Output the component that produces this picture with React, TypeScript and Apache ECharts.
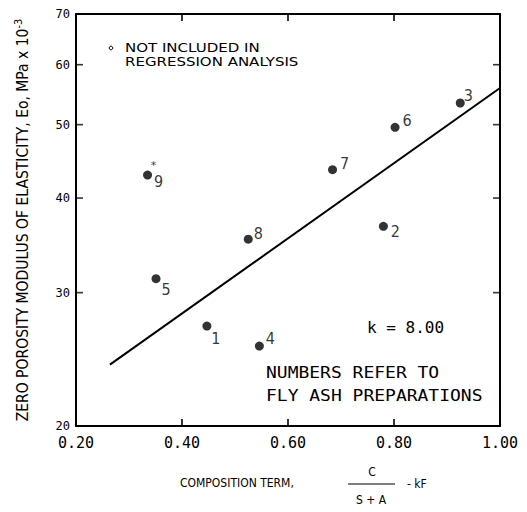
import React, { useEffect, useRef } from "react";
import * as echarts from "echarts";

// ---- data ----
const prepIds = ["1", "2", "3", "4", "5", "6", "7", "8", "9"];
const compTerm = [0.447, 0.78, 0.925, 0.546, 0.351, 0.802, 0.684, 0.525, 0.335];
const modulus = [27.1, 36.7, 53.4, 25.5, 31.3, 49.6, 43.6, 35.3, 42.9];
const excludedIds = ["9"];
const regressionX = [0.264, 1.0];
const regressionY = [24.1, 55.9];
const xTickValues = [0.2, 0.4, 0.6, 0.8, 1.0];
const yTickValues = [20, 30, 40, 50, 60, 70];

// ---- styling (label offsets in px relative to the marker centre) ----
const LABEL_OFFSET: Record<string, [number, number]> = {
  "1": [9, 12],
  "2": [12, 5],
  "3": [8, -8],
  "4": [11, -8],
  "5": [10, 11],
  "6": [12, -7],
  "7": [12, -6],
  "8": [10, -6],
  "9": [11, 6],
};
const TICK_LEN = 7;
const TICK_W = 1.6;
const MONO = '"DejaVu Sans Mono", "Liberation Mono", monospace';
const COND = '"DejaVu Sans Condensed", "Liberation Sans Narrow", "DejaVu Sans", sans-serif';
const SANS = '"DejaVu Sans", "Noto Sans", sans-serif';

export default function App() {
  const ref = useRef<HTMLDivElement>(null);

  useEffect(() => {
    document.body.style.margin = "0";
    if (!ref.current) return;
    const chart = echarts.init(ref.current, undefined, { renderer: "svg" });

    const points = prepIds.map((id, i) => ({
      name: id,
      value: [compTerm[i], modulus[i]],
      label: { offset: LABEL_OFFSET[id] },
    }));
    const excludedPts = prepIds
      .map((id, i) => ({ id, i }))
      .filter((p) => excludedIds.includes(p.id))
      .map((p) => ({ name: "*", value: [compTerm[p.i], modulus[p.i]] }));
    const regression = regressionX.map((x, i) => [x, regressionY[i]]);

    const xMin = xTickValues[0];
    const xMax = xTickValues[xTickValues.length - 1];
    const yMin = yTickValues[0];
    const yMax = yTickValues[yTickValues.length - 1];
    const innerY = yTickValues.slice(1, -1);

    const axisLine = { show: true, onZero: false, lineStyle: { color: "#000", width: 2 } };
    const xTick = { show: true, inside: true, length: TICK_LEN, lineStyle: { color: "#000", width: TICK_W } };

    // inward y tick marks (log axis) drawn as thin rect symbols placed through the axes' scales
    const yTickSeries = (data: number[][], offset: number[]) => ({
      type: "scatter",
      silent: true,
      clip: false,
      symbol: "rect",
      symbolSize: [TICK_LEN, TICK_W],
      symbolOffset: offset,
      itemStyle: { color: "#000" },
      data,
      z: 5,
    });

    chart.setOption({
      animation: false,
      backgroundColor: "#fff",
      grid: { left: 76, right: 27, top: 14, bottom: 86, containLabel: false },
      xAxis: [
        {
          type: "value",
          min: xMin,
          max: xMax,
          interval: 0.2,
          position: "bottom",
          axisLine,
          axisTick: xTick,
          axisLabel: {
            color: "#000",
            fontFamily: MONO,
            fontSize: 15,
            margin: 9,
            formatter: (v: number) => v.toFixed(2),
          },
          splitLine: { show: false },
        },
        {
          type: "value",
          min: xMin,
          max: xMax,
          interval: 0.2,
          position: "top",
          axisLine,
          axisTick: xTick,
          axisLabel: { show: false },
          splitLine: { show: false },
        },
      ],
      yAxis: [
        {
          type: "log",
          min: yMin,
          max: yMax,
          position: "left",
          axisLine,
          axisTick: { show: false },
          axisLabel: {
            customValues: yTickValues,
            color: "#000",
            fontFamily: MONO,
            fontSize: 12,
            margin: 6,
          },
          splitLine: { show: false },
          minorTick: { show: false },
          name: "{a|ZERO POROSITY MODULUS OF ELASTICITY, Eo, MPa x 10}{s|-3}",
          nameLocation: "middle",
          nameRotate: 90,
          nameGap: 45,
          nameTextStyle: {
            rich: {
              a: { fontFamily: COND, fontSize: 15.5, color: "#000", lineHeight: 18, verticalAlign: "bottom" },
              s: { fontFamily: COND, fontSize: 11, color: "#000", lineHeight: 18, verticalAlign: "top" },
            },
          },
        },
        {
          type: "log",
          min: yMin,
          max: yMax,
          position: "right",
          axisLine,
          axisTick: { show: false },
          axisLabel: { show: false },
          splitLine: { show: false },
          minorTick: { show: false },
        },
      ],
      series: [
        {
          type: "line",
          data: regression,
          symbol: "none",
          lineStyle: { color: "#000", width: 2 },
          z: 2,
        },
        {
          type: "scatter",
          data: points,
          symbol: "circle",
          symbolSize: 9,
          itemStyle: { color: "#000" },
          label: {
            show: true,
            position: "inside",
            formatter: (p: any) => p.name,
            color: "#000",
            fontFamily: COND,
            fontSize: 16,
            align: "center",
            verticalAlign: "middle",
          },
          z: 3,
        },
        {
          type: "scatter",
          data: excludedPts,
          symbolSize: 0,
          label: {
            show: true,
            position: "inside",
            formatter: (p: any) => p.name,
            offset: [6, -10],
            color: "#000",
            fontFamily: SANS,
            fontSize: 11,
          },
          z: 3,
        },
        yTickSeries(innerY.map((v) => [xMin, v]), [TICK_LEN / 2, 0]),
        yTickSeries(innerY.map((v) => [xMax, v]), [-TICK_LEN / 2, 0]),
      ],
      graphic: [
        { type: "circle", shape: { cx: 111, cy: 48, r: 1.8 }, style: { fill: "#fff", stroke: "#000", lineWidth: 1 } },
        {
          type: "text",
          x: 125,
          y: 48,
          scaleX: 1.25,
          style: { text: "NOT INCLUDED IN", fontFamily: SANS, fontSize: 12, fill: "#000", verticalAlign: "middle" },
        },
        {
          type: "text",
          x: 125,
          y: 62,
          scaleX: 1.25,
          style: { text: "REGRESSION ANALYSIS", fontFamily: SANS, fontSize: 12, fill: "#000", verticalAlign: "middle" },
        },
        {
          type: "text",
          x: 367,
          y: 327,
          style: { text: "k = 8.00", fontFamily: MONO, fontSize: 16, fill: "#000", verticalAlign: "middle" },
        },
        {
          type: "text",
          x: 266,
          y: 373,
          scaleX: 1.2,
          style: { text: "NUMBERS REFER TO", fontFamily: MONO, fontSize: 15, fill: "#000", verticalAlign: "middle" },
        },
        {
          type: "text",
          x: 266,
          y: 396,
          scaleX: 1.2,
          style: { text: "FLY ASH PREPARATIONS", fontFamily: MONO, fontSize: 15, fill: "#000", verticalAlign: "middle" },
        },
        {
          type: "text",
          x: 180,
          y: 483,
          style: { text: "COMPOSITION TERM,", fontFamily: COND, fontSize: 12, fill: "#000", verticalAlign: "middle" },
        },
        {
          type: "text",
          x: 372,
          y: 472,
          style: { text: "C", fontFamily: COND, fontSize: 12, fill: "#000", align: "center", verticalAlign: "middle" },
        },
        { type: "line", shape: { x1: 348, y1: 484, x2: 395, y2: 484 }, style: { stroke: "#000", lineWidth: 1.2 } },
        {
          type: "text",
          x: 371,
          y: 500,
          style: { text: "S + A", fontFamily: COND, fontSize: 12, fill: "#000", align: "center", verticalAlign: "middle" },
        },
        {
          type: "text",
          x: 407,
          y: 484,
          style: { text: "- kF", fontFamily: COND, fontSize: 12, fill: "#000", verticalAlign: "middle" },
        },
      ],
    });

    return () => chart.dispose();
  }, []);

  return <div ref={ref} style={{ width: 527, height: 512 }} />;
}
